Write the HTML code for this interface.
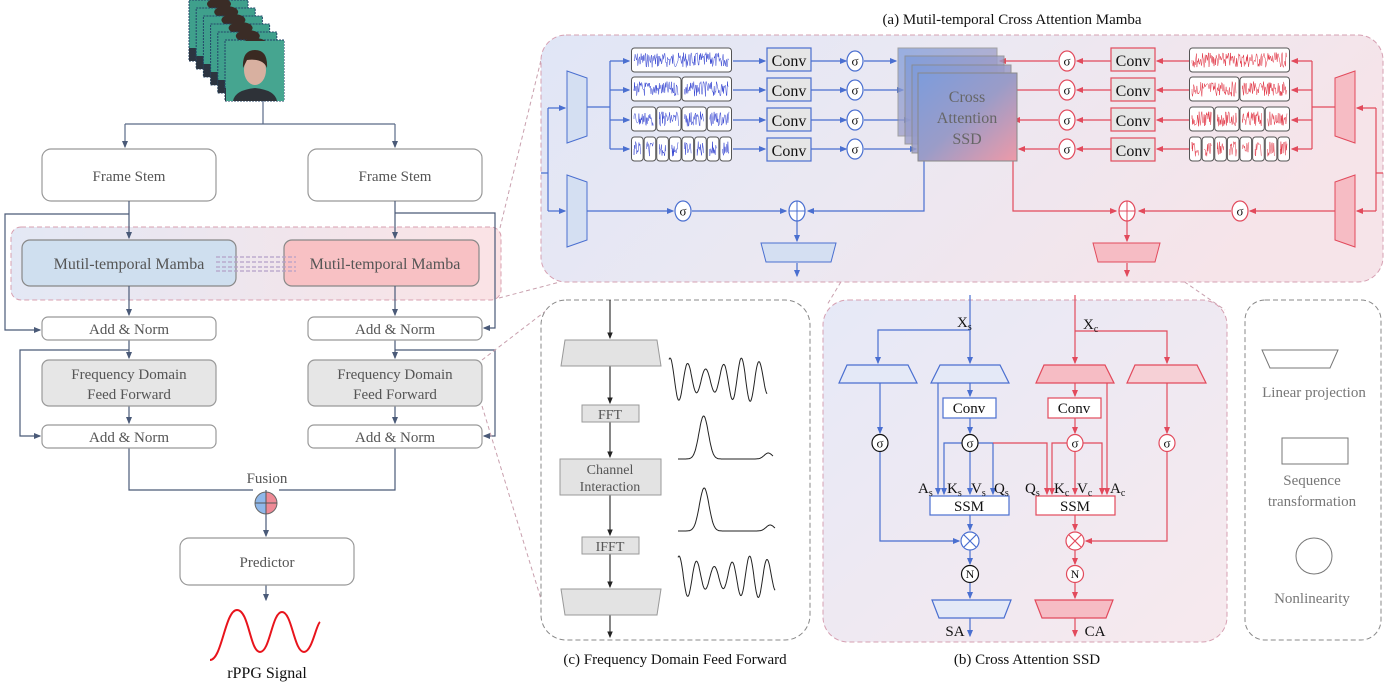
<!DOCTYPE html>
<html><head><meta charset="utf-8"><style>
body{margin:0;background:#fff}
svg{display:block;font-family:"Liberation Serif",serif}
</style></head><body>
<svg id="s" width="1393" height="685" viewBox="0 0 1393 685" xmlns="http://www.w3.org/2000/svg">
<defs>
<linearGradient id="ga" x1="0" y1="0" x2="1" y2="0.3"><stop offset="0" stop-color="#e0e6f6"/><stop offset="0.5" stop-color="#ebe8f2"/><stop offset="1" stop-color="#f6e4e9"/></linearGradient>
<linearGradient id="gb" x1="0" y1="0" x2="1" y2="1"><stop offset="0" stop-color="#e6e9f7"/><stop offset="1" stop-color="#f7e9ed"/></linearGradient>
<linearGradient id="gm" x1="0" y1="0" x2="1" y2="0"><stop offset="0" stop-color="#e3e8f5"/><stop offset="1" stop-color="#fbe3e5"/></linearGradient>
<linearGradient id="gs" x1="0" y1="0" x2="1" y2="1"><stop offset="0" stop-color="#7d9cdc"/><stop offset="0.5" stop-color="#9a9cc8"/><stop offset="1" stop-color="#ee9aa8"/></linearGradient>
<linearGradient id="gf" x1="0" y1="0" x2="1" y2="0"><stop offset="0.5" stop-color="#8fb8ea"/><stop offset="0.5" stop-color="#ee8a96"/></linearGradient>
<marker id="ab" markerWidth="6" markerHeight="6" refX="5" refY="3" orient="auto"><path d="M0,0.5 L6,3 L0,5.5z" fill="#4a6fd0"/></marker>
<marker id="ar" markerWidth="6" markerHeight="6" refX="5" refY="3" orient="auto"><path d="M0,0.5 L6,3 L0,5.5z" fill="#e24a5c"/></marker>
<marker id="ak" markerWidth="6" markerHeight="6" refX="5" refY="3" orient="auto"><path d="M0,0.5 L6,3 L0,5.5z" fill="#222"/></marker>
<marker id="ag" markerWidth="6" markerHeight="6" refX="5" refY="3" orient="auto"><path d="M0,0.5 L6,3 L0,5.5z" fill="#4a5a78"/></marker>
</defs>

<g id="frames"></g>
<g fill="none" stroke="#5a6a88" stroke-width="1.2">
<path d="M263,101 V124 M125,124 H395"/>
<path d="M125,124 V147" marker-end="url(#ag)"/><path d="M395,124 V147" marker-end="url(#ag)"/>
</g>
<g fill="#fff" stroke="#999" stroke-width="1.2">
<rect x="42" y="149" width="174" height="52" rx="9"/>
<rect x="308" y="149" width="174" height="52" rx="9"/>
</g>
<g font-size="15" fill="#555" text-anchor="middle"><text x="129" y="181">Frame Stem</text><text x="395" y="181">Frame Stem</text></g>

<rect x="11" y="227" width="490" height="73" rx="10" fill="url(#gm)" stroke="#d8a0b0" stroke-dasharray="5,3"/>
<rect x="22" y="240" width="214" height="46" rx="8" fill="#cfdfef" stroke="#888" stroke-width="1.2"/>
<rect x="284" y="240" width="195" height="46" rx="8" fill="#f8c1c4" stroke="#888" stroke-width="1.2"/>
<g stroke="#b4a0c8" stroke-dasharray="4,2" stroke-width="1.2"><path d="M216,257H296M216,262H296M216,267H296M216,271H296"/></g>
<g font-size="16" fill="#555" text-anchor="middle"><text x="129" y="269">Mutil-temporal Mamba</text><text x="385" y="269">Mutil-temporal Mamba</text></g>

<g fill="none" stroke="#4a5a78" stroke-width="1.2">
<path d="M129,201 V238" marker-end="url(#ag)"/><path d="M395,201 V238" marker-end="url(#ag)"/>
<path d="M129,286 V315" marker-end="url(#ag)"/><path d="M395,286 V315" marker-end="url(#ag)"/>
<path d="M129,214 H5 V330 H40" marker-end="url(#ag)"/>
<path d="M395,213 H495 V328 H484" marker-end="url(#ag)"/>
<path d="M129,340 V358" marker-end="url(#ag)"/><path d="M395,340 V358" marker-end="url(#ag)"/>
<path d="M129,350 H20 V436 H40" marker-end="url(#ag)"/>
<path d="M395,350 H495 V436 H484" marker-end="url(#ag)"/>
<path d="M129,406 V423" marker-end="url(#ag)"/><path d="M395,406 V423" marker-end="url(#ag)"/>
<path d="M129,448 V490 H253"/><path d="M395,448 V490 H279"/>
<path d="M266,490 V492"/>
<path d="M266,514 V536" marker-end="url(#ag)"/>
<path d="M266,585 V600" marker-end="url(#ag)"/>
</g>
<g fill="#fff" stroke="#999" stroke-width="1.2">
<rect x="42" y="317" width="174" height="23" rx="6"/><rect x="308" y="317" width="174" height="23" rx="6"/>
<rect x="42" y="425" width="174" height="23" rx="6"/><rect x="308" y="425" width="174" height="23" rx="6"/>
<rect x="180" y="538" width="174" height="47" rx="9"/>
</g>
<g fill="#e6e6e6" stroke="#999" stroke-width="1.2">
<rect x="42" y="360" width="174" height="46" rx="7"/><rect x="308" y="360" width="174" height="46" rx="7"/>
</g>
<g font-size="15" fill="#555" text-anchor="middle">
<text x="129" y="334">Add &amp; Norm</text><text x="395" y="334">Add &amp; Norm</text>
<text x="129" y="379">Frequency Domain</text><text x="129" y="399">Feed Forward</text>
<text x="395" y="379">Frequency Domain</text><text x="395" y="399">Feed Forward</text>
<text x="129" y="442">Add &amp; Norm</text><text x="395" y="442">Add &amp; Norm</text>
<text x="267" y="483">Fusion</text>
<text x="267" y="567">Predictor</text>
</g>
<circle cx="266" cy="503" r="11" fill="url(#gf)" stroke="#666"/>
<path d="M255,503H277M266,492V514" stroke="#555" stroke-width="1"/>
<path d="M210,660 C222,660 225,610 237,610 C249,610 250,652 260,652 C270,652 272,612 282,612 C292,612 294,652 304,652 C312,652 316,625 320,622" fill="none" stroke="#e8141c" stroke-width="2"/>
<text x="267" y="678" font-size="16" text-anchor="middle" fill="#111">rPPG Signal</text>

<g fill="none" stroke="#c9a0ae" stroke-dasharray="4,3" stroke-width="1">
<path d="M500,228 L541,60"/><path d="M499,298 L560,282"/>
<path d="M482,360 L560,300"/><path d="M482,406 L548,622"/>
<path d="M913,162 L827,305"/><path d="M1012,162 L1225,310"/>
</g>

<text x="1012" y="24" font-size="15" text-anchor="middle" fill="#111">(a)  Mutil-temporal Cross Attention Mamba</text>
<rect x="541" y="35" width="842" height="247" rx="25" fill="url(#ga)" stroke="#d6a0b2" stroke-dasharray="5,3"/>
<g stroke="#4a6fd0" stroke-width="1">
<polygon points="567,71 587,78 587,136 567,143" fill="#d4dff2"/>
<polygon points="567,175 587,182 587,240 567,247" fill="#d4dff2"/>
</g>
<g stroke="#e24a5c" stroke-width="1">
<polygon points="1355,71 1335,78 1335,136 1355,143" fill="#f6bcc4"/>
<polygon points="1355,175 1335,182 1335,240 1355,247" fill="#f6bcc4"/>
</g>
<g id="sig"></g>
<g fill="none" stroke="#4a6fd0" stroke-width="1.2">
<path d="M541,173 H548 M548,108 V211"/>
<path d="M548,108 H565" marker-end="url(#ab)"/><path d="M548,211 H565" marker-end="url(#ab)"/>
<path d="M587,107 H610 M610,61 V149"/>
<path d="M610,61H629" marker-end="url(#ab)"/><path d="M610,90H629" marker-end="url(#ab)"/><path d="M610,120H629" marker-end="url(#ab)"/><path d="M610,149H629" marker-end="url(#ab)"/>
<path d="M733,61H765" marker-end="url(#ab)"/><path d="M733,90H765" marker-end="url(#ab)"/><path d="M733,120H765" marker-end="url(#ab)"/><path d="M733,149H765" marker-end="url(#ab)"/>
<path d="M811,61H846" marker-end="url(#ab)"/><path d="M811,90H846" marker-end="url(#ab)"/><path d="M811,120H846" marker-end="url(#ab)"/><path d="M811,149H846" marker-end="url(#ab)"/>
<path d="M864,61H896" marker-end="url(#ab)"/><path d="M864,90H903" marker-end="url(#ab)"/><path d="M864,120H910" marker-end="url(#ab)"/><path d="M864,149H916" marker-end="url(#ab)"/>
<path d="M587,211 H673" marker-end="url(#ab)"/><path d="M692,211 H786" marker-end="url(#ab)"/>
<path d="M924,161 V211 H808" marker-end="url(#ab)"/>
<path d="M797,221 V241" marker-end="url(#ab)"/><path d="M797,263 V276" marker-end="url(#ab)"/>
</g>
<g fill="none" stroke="#e24a5c" stroke-width="1.2">
<path d="M1383,173 H1376 M1376,108 V211"/>
<path d="M1376,108 H1357" marker-end="url(#ar)"/><path d="M1376,211 H1357" marker-end="url(#ar)"/>
<path d="M1335,107 H1312 M1312,61 V149"/>
<path d="M1312,61H1292" marker-end="url(#ar)"/><path d="M1312,90H1292" marker-end="url(#ar)"/><path d="M1312,120H1292" marker-end="url(#ar)"/><path d="M1312,149H1292" marker-end="url(#ar)"/>
<path d="M1189,61H1157" marker-end="url(#ar)"/><path d="M1189,90H1157" marker-end="url(#ar)"/><path d="M1189,120H1157" marker-end="url(#ar)"/><path d="M1189,149H1157" marker-end="url(#ar)"/>
<path d="M1111,61H1077" marker-end="url(#ar)"/><path d="M1111,90H1077" marker-end="url(#ar)"/><path d="M1111,120H1077" marker-end="url(#ar)"/><path d="M1111,149H1077" marker-end="url(#ar)"/>
<path d="M1058,61H1000" marker-end="url(#ar)"/><path d="M1058,90H1008" marker-end="url(#ar)"/><path d="M1058,120H1014" marker-end="url(#ar)"/><path d="M1058,149H1019" marker-end="url(#ar)"/>
<path d="M1335,211 H1250" marker-end="url(#ar)"/><path d="M1231,211 H1139" marker-end="url(#ar)"/>
<path d="M1013,161 V211 H1116" marker-end="url(#ar)"/>
<path d="M1127,221 V241" marker-end="url(#ar)"/><path d="M1127,263 V276" marker-end="url(#ar)"/>
</g>
<g fill="#e6e6e6" stroke-width="1.2">
<rect x="767" y="48" width="44" height="23" stroke="#4a6fd0"/><rect x="767" y="78" width="44" height="23" stroke="#4a6fd0"/>
<rect x="767" y="108" width="44" height="23" stroke="#4a6fd0"/><rect x="767" y="138" width="44" height="23" stroke="#4a6fd0"/>
<rect x="1111" y="48" width="44" height="23" stroke="#e24a5c"/><rect x="1111" y="78" width="44" height="23" stroke="#e24a5c"/>
<rect x="1111" y="108" width="44" height="23" stroke="#e24a5c"/><rect x="1111" y="138" width="44" height="23" stroke="#e24a5c"/>
</g>
<g font-size="16" fill="#111" text-anchor="middle">
<text x="789" y="66">Conv</text><text x="789" y="96">Conv</text><text x="789" y="126">Conv</text><text x="789" y="156">Conv</text>
<text x="1133" y="66">Conv</text><text x="1133" y="96">Conv</text><text x="1133" y="126">Conv</text><text x="1133" y="156">Conv</text>
</g>
<g id="sigs"></g>
<g stroke="#888" stroke-width="1">
<rect x="898" y="48" width="99" height="88" fill="url(#gs)" opacity="0.75"/>
<rect x="905" y="56" width="99" height="88" fill="url(#gs)" opacity="0.8"/>
<rect x="912" y="65" width="99" height="88" fill="url(#gs)" opacity="0.85"/>
<rect x="918" y="73" width="99" height="88" fill="url(#gs)"/>
</g>
<g font-size="16" fill="#666" text-anchor="middle"><text x="967" y="102">Cross</text><text x="967" y="123">Attention</text><text x="967" y="144">SSD</text></g>
<polygon points="761,243 836,243 831,262 766,262" fill="#d4dff2" stroke="#4a6fd0"/>
<polygon points="1093,243 1160,243 1155,262 1098,262" fill="#f6bcc4" stroke="#e24a5c"/>

<rect x="541" y="300" width="269" height="340" rx="25" fill="#fff" stroke="#888" stroke-dasharray="5,3"/>
<g fill="none" stroke="#222" stroke-width="1.1">
<path d="M610,300V338" marker-end="url(#ak)"/><path d="M610,366V403" marker-end="url(#ak)"/>
<path d="M610,422V457" marker-end="url(#ak)"/><path d="M610,495V535" marker-end="url(#ak)"/>
<path d="M610,553V587" marker-end="url(#ak)"/><path d="M610,615V637" marker-end="url(#ak)"/>
</g>
<g fill="#e3e3e3" stroke="#999">
<polygon points="565,340 657,340 661,366 561,366"/>
<rect x="582" y="405" width="57" height="17"/>
<rect x="560" y="459" width="101" height="36"/>
<rect x="582" y="537" width="57" height="17"/>
<polygon points="561,589 661,589 657,615 565,615"/>
</g>
<g font-size="14" fill="#555" text-anchor="middle">
<text x="610" y="419">FFT</text><text x="610" y="474">Channel</text><text x="610" y="491">Interaction</text><text x="610" y="551">IFFT</text>
</g>
<g id="waves" fill="none" stroke="#222" stroke-width="1"></g>
<text x="675" y="664" font-size="15" text-anchor="middle" fill="#111">(c)  Frequency Domain Feed Forward</text>

<rect x="823" y="300" width="404" height="342" rx="25" fill="url(#gb)" stroke="#d6a0b2" stroke-dasharray="5,3"/>
<g fill="none" stroke="#4a6fd0" stroke-width="1.2">
<path d="M970,295 V363" marker-end="url(#ab)"/>
<path d="M970,330 H878 V363" marker-end="url(#ab)"/>
<path d="M970,383 V396" marker-end="url(#ab)"/>
<path d="M970,418 V433" marker-end="url(#ab)"/>
<path d="M938,383 V494" marker-end="url(#ab)"/>
<path d="M962,443 H944 V494" marker-end="url(#ab)"/>
<path d="M970,451 V494" marker-end="url(#ab)"/>
<path d="M978,443 H993 V494" marker-end="url(#ab)"/>
<path d="M880,383 V433" marker-end="url(#ab)"/>
<path d="M880,451 V541 H959" marker-end="url(#ab)"/>
<path d="M970,515 V530" marker-end="url(#ab)"/>
<path d="M970,550 V564" marker-end="url(#ab)"/>
<path d="M970,583 V598" marker-end="url(#ab)"/>
<path d="M970,618 V636" marker-end="url(#ab)"/>
</g>
<g fill="none" stroke="#e24a5c" stroke-width="1.2">
<path d="M993,443 H1047 V494" marker-end="url(#ar)"/>
<path d="M1075,295 V363" marker-end="url(#ar)"/>
<path d="M1075,331 H1167 V363" marker-end="url(#ar)"/>
<path d="M1075,383 V396" marker-end="url(#ar)"/>
<path d="M1075,418 V433" marker-end="url(#ar)"/>
<path d="M1067,443 H1052 V494" marker-end="url(#ar)"/>
<path d="M1075,451 V494" marker-end="url(#ar)"/>
<path d="M1083,443 H1102 V494" marker-end="url(#ar)"/>
<path d="M1107,383 V494" marker-end="url(#ar)"/>
<path d="M1167,383 V433" marker-end="url(#ar)"/>
<path d="M1167,451 V541 H1086" marker-end="url(#ar)"/>
<path d="M1075,515 V530" marker-end="url(#ar)"/>
<path d="M1075,550 V564" marker-end="url(#ar)"/>
<path d="M1075,583 V598" marker-end="url(#ar)"/>
<path d="M1075,618 V636" marker-end="url(#ar)"/>
</g>
<g stroke-width="1.2">
<polygon points="847,365 908,365 917,383 839,383" fill="#e4e9f7" stroke="#4a6fd0"/>
<polygon points="940,365 1000,365 1009,383 931,383" fill="#e4e9f7" stroke="#4a6fd0"/>
<polygon points="1044,365 1105,365 1114,383 1036,383" fill="#f6bcc4" stroke="#e24a5c"/>
<polygon points="1135,365 1197,365 1206,383 1127,383" fill="#f6d0d6" stroke="#e24a5c"/>
<rect x="943" y="398" width="53" height="20" fill="#fff" stroke="#4a6fd0"/>
<rect x="1048" y="398" width="53" height="20" fill="#fff" stroke="#e24a5c"/>
<rect x="930" y="496" width="79" height="19" fill="#fff" stroke="#4a6fd0"/>
<rect x="1036" y="496" width="79" height="19" fill="#fff" stroke="#e24a5c"/>
<polygon points="932,600 1011,600 1004,618 939,618" fill="#e4e9f7" stroke="#4a6fd0"/>
<polygon points="1035,600 1113,600 1106,618 1042,618" fill="#f6bcc4" stroke="#e24a5c"/>
</g>
<g font-size="15" fill="#111" text-anchor="middle">
<text x="969" y="413">Conv</text><text x="1074" y="413">Conv</text>
<text x="969" y="511">SSM</text><text x="1075" y="511">SSM</text>
<text x="955" y="636">SA</text><text x="1095" y="636">CA</text>
</g>
<g font-size="15" fill="#111">
<text x="957" y="327">X<tspan font-size="10" dy="3">s</tspan></text>
<text x="1083" y="329">X<tspan font-size="10" dy="3">c</tspan></text>
<text x="918" y="493">A<tspan font-size="10" dy="3">s</tspan></text>
<text x="947" y="493">K<tspan font-size="10" dy="3">s</tspan></text>
<text x="971" y="493">V<tspan font-size="10" dy="3">s</tspan></text>
<text x="994" y="493">Q<tspan font-size="10" dy="3">s</tspan></text>
<text x="1025" y="493">Q<tspan font-size="10" dy="3">s</tspan></text>
<text x="1054" y="493">K<tspan font-size="10" dy="3">c</tspan></text>
<text x="1077" y="493">V<tspan font-size="10" dy="3">c</tspan></text>
<text x="1110" y="493">A<tspan font-size="10" dy="3">c</tspan></text>
</g>
<g stroke-width="1.2" fill="#fff">
<circle cx="970" cy="541" r="9" stroke="#4a6fd0"/><path d="M964,535L976,547M976,535L964,547" stroke="#4a6fd0"/>
<circle cx="1075" cy="541" r="9" stroke="#e24a5c"/><path d="M1069,535L1081,547M1081,535L1069,547" stroke="#e24a5c"/>
<circle cx="970" cy="574" r="8.5" stroke="#111"/><circle cx="1075" cy="574" r="8.5" stroke="#e24a5c"/>
</g>
<g font-size="12" text-anchor="middle" fill="#111"><text x="970" y="578">N</text><text x="1075" y="578">N</text></g>
<g id="sigb"></g>
<text x="1027" y="664" font-size="15" text-anchor="middle" fill="#111">(b)  Cross Attention SSD</text>

<rect x="1245" y="300" width="136" height="340" rx="20" fill="#fff" stroke="#888" stroke-dasharray="5,3"/>
<polygon points="1262,350 1338,350 1330,368 1270,368" fill="#fff" stroke="#777"/>
<rect x="1282" y="438" width="66" height="26" fill="#fff" stroke="#777"/>
<circle cx="1314" cy="556" r="18" fill="#fff" stroke="#777"/>
<g font-size="15" fill="#777" text-anchor="middle">
<text x="1314" y="397">Linear projection</text>
<text x="1312" y="485">Sequence</text><text x="1312" y="506">transformation</text>
<text x="1312" y="603">Nonlinearity</text>
</g>
</svg>
<script>
var NS="http://www.w3.org/2000/svg",s=document.getElementById("s");
function el(p,t,a,txt){var e=document.createElementNS(NS,t);for(var k in a)e.setAttribute(k,a[k]);if(txt)e.textContent=txt;p.appendChild(e);return e;}
var seed=7;function rnd(){seed=(seed*9301+49297)%233280;return seed/233280;}
var fr=document.getElementById("frames");
for(var i=0;i<6;i++){var x=189+i*7.2,y=i*8;el(fr,"rect",{x:x,y:y,width:59,height:61,fill:"#3fa08c",stroke:"#24466a","stroke-width":1,"stroke-dasharray":"2,1"});
 el(fr,"ellipse",{cx:x+30,cy:y+4,rx:12,ry:6,fill:"#3a2c26"});
 el(fr,"rect",{x:x,y:y+48,width:8,height:13,fill:"#2c3440"});}
var fx=225,fy=40;
el(fr,"rect",{x:fx+1,y:fy+1,width:58,height:60,fill:"#46a590"});
el(fr,"path",{d:"M"+(fx+8)+","+(fy+61)+" Q"+(fx+10)+","+(fy+50)+" "+(fx+30)+","+(fy+48)+" Q"+(fx+50)+","+(fy+50)+" "+(fx+52)+","+(fy+61)+"z",fill:"#2e3238"});
el(fr,"ellipse",{cx:fx+30,cy:fy+30,rx:11,ry:15,fill:"#d8b0a0"});
el(fr,"path",{d:"M"+(fx+18)+","+(fy+28)+" Q"+(fx+17)+","+(fy+10)+" "+(fx+30)+","+(fy+10)+" Q"+(fx+43)+","+(fy+10)+" "+(fx+42)+","+(fy+28)+" Q"+(fx+38)+","+(fy+18)+" "+(fx+22)+","+(fy+20)+"z",fill:"#3a2a22"});
var sg=document.getElementById("sig");
function sigbox(x0,y0,w,h,n,col){var sw=w/n;for(var j=0;j<n;j++){var x=x0+j*sw;el(sg,"rect",{x:x+0.5,y:y0,width:sw-1,height:h,rx:3,fill:"#fff",stroke:"#555","stroke-width":1});
 var d="M"+(x+3)+","+(y0+h/2);for(var t=x+3;t<x+sw-3;t+=0.55){d+=" L"+t.toFixed(1)+","+(y0+h/2+(rnd()-0.5)*(h-9)).toFixed(1);}
 el(sg,"path",{d:d,fill:"none",stroke:col,"stroke-width":0.5});}}
var ys=[48,77,107,137],ns=[1,2,4,8];
for(var r=0;r<4;r++){sigbox(631,ys[r],101,24,ns[r],"#3040d0");sigbox(1189,ys[r],101,24,ns[r],"#e03040");}
function sigma(g,cx,cy,col,rx,ry){el(g,"ellipse",{cx:cx,cy:cy,rx:rx,ry:ry,fill:"#fff",stroke:col,"stroke-width":1.2});el(g,"text",{x:cx,y:cy+4.5,"font-size":13,"text-anchor":"middle",fill:"#111"},"σ");}
var sa=document.getElementById("sigs");
[61,90,120,149].forEach(function(y){sigma(sa,855,y,"#4a6fd0",8,10);sigma(sa,1067,y,"#e24a5c",8,10);});
sigma(sa,683,211,"#4a6fd0",8,10);sigma(sa,1240,211,"#e24a5c",8,10);
[[797,"#4a6fd0"],[1127,"#e24a5c"]].forEach(function(p){el(sa,"ellipse",{cx:p[0],cy:211,rx:8,ry:10,fill:"#fff",stroke:p[1],"stroke-width":1.2});el(sa,"path",{d:"M"+(p[0]-8)+",211H"+(p[0]+8)+"M"+p[0]+",201V221",stroke:p[1],"stroke-width":1});});
var sb=document.getElementById("sigb");
sigma(sb,880,443,"#111",8,8.5);sigma(sb,970,443,"#111",8,8.5);sigma(sb,1075,443,"#e24a5c",8,8.5);sigma(sb,1167,443,"#e24a5c",8,8.5);
var wv=document.getElementById("waves");
function wave(x0,x1,yc,amp,n,ph){var d="";for(var t=0;t<=200;t++){var x=x0+(x1-x0)*t/200;var a=amp*(0.75+0.25*Math.cos(t/200*6.28*1.3));var y=yc-a*Math.sin(t/200*n*6.283+ph);d+=(t?"L":"M")+x.toFixed(1)+","+y.toFixed(1);}el(wv,"path",{d:d});}
wave(669,767,380,22,5.5,1.2);wave(678,775,577,21,5.5,1.2);
function peak(x0,x1,yb,h){var d="";for(var t=0;t<=200;t++){var x=x0+(x1-x0)*t/200;var u=t/200;var y=yb-h*Math.exp(-Math.pow((u-0.27)/0.07,2))-6*Math.exp(-Math.pow((u-0.95)/0.06,2));d+=(t?"L":"M")+x.toFixed(1)+","+y.toFixed(1);}el(wv,"path",{d:d});}
peak(678,773,459,43);peak(678,775,531,43);
</script>
</body></html>
